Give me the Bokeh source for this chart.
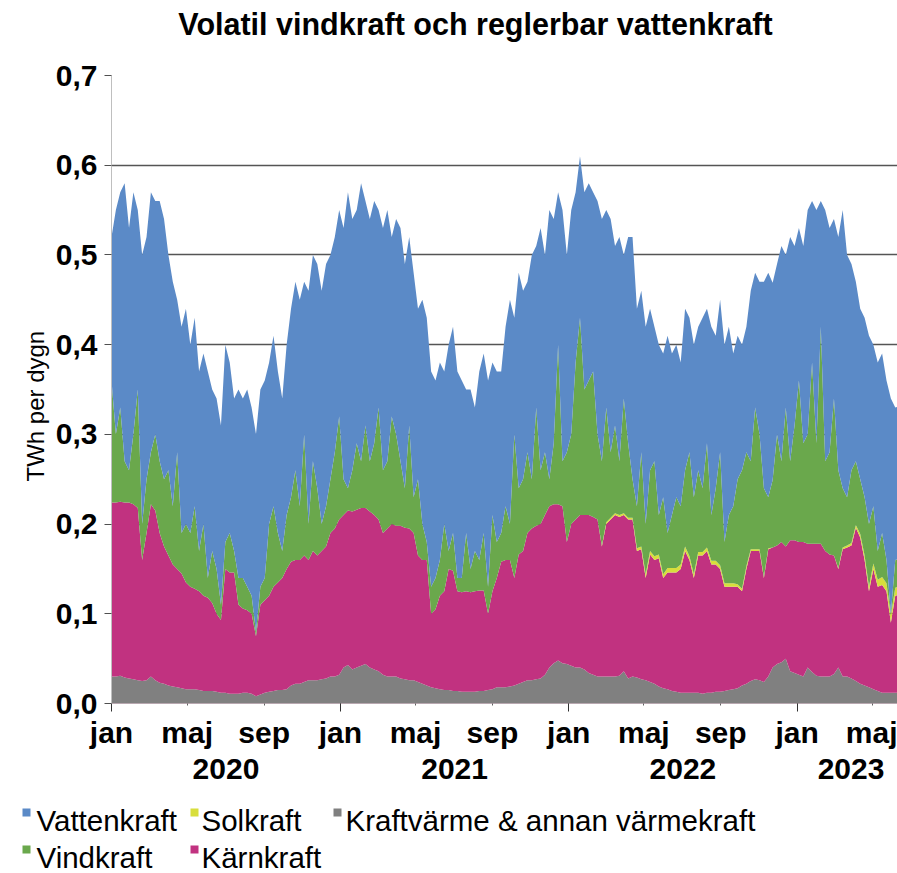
import numpy as np
import pandas as pd
from bokeh.plotting import figure
from bokeh.models import (Range1d, FixedTicker, ColumnDataSource, CustomJSTickFormatter,
                          LinearAxis)
from bokeh.core.properties import value
from bokeh.embed import file_html
from bokeh.resources import INLINE

# ---------------- data (TWh per dygn, weekly readings from 2020-01-01) ----------------
start_date = "2020-01-01"

kraftvarme = [
    .030, .030, .031, .029, .028, .027, .026, .025, .026, .030,
    .026, .023, .022, .020, .019, .018, .017, .016, .016, .016,
    .015, .014, .014, .014, .013, .012, .012, .011, .011, .011,
    .012, .012, .011, .008, .010, .012, .013, .014, .015, .015,
    .016, .020, .022, .022, .024, .026, .026, .026, .027, .028,
    .030, .030, .032, .040, .043, .038, .040, .042, .044, .040,
    .038, .036, .032, .030, .030, .030, .028, .027, .026, .026,
    .024, .022, .020, .018, .017, .016, .015, .015, .014, .014,
    .013, .013, .013, .013, .014, .014, .015, .016, .018, .018,
    .018, .019, .020, .022, .024, .026, .026, .027, .028, .032,
    .040, .045, .048, .045, .044, .042, .040, .040, .038, .034,
    .032, .030, .030, .030, .030, .030, .031, .036, .028, .030,
    .029, .027, .026, .024, .022, .019, .017, .016, .014, .013,
    .012, .012, .012, .012, .012, .011, .012, .012, .013, .013,
    .014, .015, .016, .017, .020, .022, .025, .027, .026, .024,
    .030, .040, .044, .046, .050, .036, .034, .032, .030, .040,
    .035, .031, .030, .030, .030, .033, .040, .030, .030, .028,
    .025, .022, .020, .018, .016, .014, .012, .012, .012, .012,
    .012,
]

karnkraft = [
    .194, .194, .194, .195, .196, .195, .192, .135, .164, .192,
    .189, .167, .153, .145, .136, .132, .128, .119, .114, .112,
    .110, .106, .104, .098, .087, .081, .138, .135, .135, .099,
    .094, .092, .089, .067, .100, .103, .107, .116, .120, .125,
    .134, .138, .138, .138, .141, .134, .144, .139, .143, .147,
    .160, .165, .173, .170, .172, .176, .176, .176, .174, .174,
    .172, .169, .158, .165, .170, .168, .170, .169, .169, .164,
    .141, .138, .140, .082, .088, .104, .110, .135, .134, .111,
    .111, .112, .111, .112, .112, .112, .085, .109, .122, .140,
    .142, .141, .120, .144, .146, .164, .169, .171, .172, .178,
    .180, .177, .174, .175, .136, .158, .165, .170, .172, .176,
    .176, .175, .145, .170, .175, .180, .177, .174, .177, .175,
    .141, .145, .114, .142, .138, .143, .123, .130, .132, .133,
    .138, .158, .148, .128, .153, .154, .158, .143, .142, .137,
    .116, .115, .114, .113, .105, .128, .145, .143, .144, .116,
    .142, .134, .132, .134, .125, .146, .148, .148, .150, .138,
    .143, .147, .148, .140, .136, .132, .110, .142, .144, .148,
    .171, .163, .140, .107, .134, .116, .120, .113, .078, .108,
    .110,
]

solkraft = [0.0] * 112 + [
    .001, .002, .002, .002, .002, .002, .002, .002,
    .003, .003, .004, .004, .004, .004, .004, .005, .005, .005,
    .005, .005, .004, .004, .004, .004, .004, .004, .004, .004,
    .004, .004, .004, .003, .003, .003, .002, .002, .002, .001,
    .001, .000, .000, .000, .000, .000, .000, .000, .000, .000,
    .000, .000, .000, .000, .000, .000, .001, .002, .002, .003,
    .003, .004, .005, .005, .006, .008, .009, .009, .008, .009,
    .009,
]

vindkraft = [
    .136, .076, .105, .046, .036, .078, .132, .040, .060, .058,
    .085, .080, .075, .095, .065, .130, .045, .065, .060, .092,
    .045, .080, .022, .058, .050, .017, .030, .044, .024, .030,
    .034, .026, .020, .005, .020, .025, .080, .090, .055, .030,
    .060, .072, .100, .060, .135, .040, .100, .075, .030, .045,
    .060, .085, .115, .040, .025, .046, .074, .052, .092, .056,
    .080, .125, .070, .075, .120, .102, .072, .044, .115, .040,
    .085, .040, .020, .030, .035, .040, .075, .020, .042, .015,
    .016, .065, .026, .045, .034, .064, .030, .085, .040, .032,
    .060, .040, .160, .074, .080, .090, .055, .132, .060, .070,
    .030, .068, .178, .050, .100, .100, .175, .220, .140, .150,
    .162, .095, .094, .128, .073, .098, .060, .128, .083, .043,
    .047, .105, .056, .090, .106, .044, .086, .039, .059, .079,
    .065, .085, .116, .086, .091, .071, .116, .051, .081, .126,
    .046, .076, .086, .117, .132, .127, .098, .158, .128, .099,
    .057, .075, .124, .090, .155, .088, .128, .180, .110, .122,
    .202, .112, .242, .100, .114, .175, .109, .066, .054, .081,
    .071, .061, .065, .070, .064, .032, .049, .026, .002, .031,
    .030,
]

vattenkraft = [
    .16, .25, .24, .31, .27, .27, .20, .30, .27, .29,
    .26, .29, .29, .24, .25, .17, .23, .24, .21, .21,
    .20, .19, .23, .18, .19, .20, .22, .19, .17, .21,
    .20, .22, .21, .22, .22, .22, .18, .19, .18, .17,
    .19, .21, .21, .23, .17, .26, .23, .25, .26, .27,
    .25, .24, .23, .28, .33, .28, .26, .31, .25, .27,
    .27, .22, .27, .28, .20, .24, .26, .25, .21, .25,
    .19, .25, .25, .24, .22, .22, .17, .23, .23, .23,
    .22, .16, .20, .16, .21, .20, .23, .17, .19, .18,
    .20, .25, .13, .24, .21, .19, .25, .18, .27, .22,
    .30, .25, .17, .28, .22, .25, .19, .18, .22, .22,
    .20, .26, .27, .22, .26, .20, .25, .16, .23, .27,
    .22, .18, .22, .18, .15, .19, .16, .22, .18, .17,
    .16, .18, .15, .17, .16, .19, .15, .21, .17, .17,
    .22, .21, .17, .16, .14, .14, .19, .15, .17, .23,
    .25, .22, .19, .24, .17, .25, .20, .17, .22, .25,
    .18, .26, .14, .28, .25, .20, .26, .31, .27, .23,
    .20, .19, .20, .21, .18, .21, .20, .20, .24, .17,
    .17,
]

series_names = ["Vattenkraft", "Solkraft", "Kraftvärme & annan värmekraft", "Vindkraft", "Kärnkraft"]
month_names = {1: "jan", 5: "maj", 9: "sep"}
year_labels = ["2020", "2021", "2022", "2023"]
y_ticks = [0.0, 0.1, 0.2, 0.3, 0.4, 0.5, 0.6, 0.7]
title_text = "Volatil vindkraft och reglerbar vattenkraft"
y_title = "TWh per dygn"

# ---------------- styling ----------------
C_HYD = "#5B8AC7"
C_SOL = "#D8DE3C"
C_CHP = "#808080"
C_WIND = "#6AA84C"
C_NUC = "#C13280"
colors = {"Vattenkraft": C_HYD, "Solkraft": C_SOL, "Kraftvärme & annan värmekraft": C_CHP,
          "Vindkraft": C_WIND, "Kärnkraft": C_NUC}
FONT = "Liberation Sans"

W, H = 897, 873
MAIN_H = 795
ROOT_GAP = 10          # vertical gap the page leaves between the two roots
FRAME_LEFT, FRAME_TOP, FRAME_BOTTOM = 111, 75, 703
PX_PER_DAY = 0.6255
X_END = (W - FRAME_LEFT) / PX_PER_DAY

n = len(vattenkraft)
t0 = pd.Timestamp(start_date)
dates = pd.date_range(t0, periods=n, freq="7D")
day = np.asarray((dates - t0).days, dtype=float)

source = ColumnDataSource(dict(day=day, chp=kraftvarme, nuc=karnkraft, sol=solkraft,
                               wind=vindkraft, hyd=vattenkraft))

p = figure(width=W, height=MAIN_H, output_backend="svg", toolbar_location=None, title=None,
           x_range=Range1d(0, X_END), y_range=Range1d(0, 0.7),
           min_border_left=FRAME_LEFT, min_border_right=0, min_border_top=FRAME_TOP,
           min_border_bottom=MAIN_H - FRAME_BOTTOM)
p.outline_line_color = None

p.varea_stack(["chp", "nuc", "sol", "wind", "hyd"], x="day",
              color=[C_CHP, C_NUC, C_SOL, C_WIND, C_HYD], source=source)

xa = p.below[0]
yax = p.left[0]


def plain_axis(ax, size, standoff):
    ax.major_label_text_font = FONT
    ax.major_label_text_font_style = "bold"
    ax.major_label_text_font_size = size
    ax.major_label_text_color = "black"
    ax.major_label_standoff = standoff
    ax.major_tick_out = 0
    ax.major_tick_in = 0
    ax.minor_tick_out = 0
    ax.minor_tick_in = 0
    ax.major_tick_line_color = None
    ax.minor_tick_line_color = None
    ax.axis_line_color = None


# x axis: month ticks
month_starts = pd.date_range("2020-01-01", "2023-06-01", freq="4MS")
tick_days = [float((m - t0).days) for m in month_starts]
jan_days = [float((m - t0).days) for m in month_starts if m.month == 1]
xa.ticker = FixedTicker(ticks=tick_days, minor_ticks=jan_days)
xa.major_label_overrides = {d: month_names[m.month] for d, m in zip(tick_days, month_starts)}
xa.major_label_text_font = FONT
xa.major_label_text_font_style = "bold"
xa.major_label_text_font_size = "30px"
xa.major_label_text_color = "black"
xa.major_label_standoff = 4
xa.major_tick_out = 2
xa.major_tick_in = 0
xa.minor_tick_out = 8
xa.minor_tick_in = 0
xa.major_tick_line_color = "#606060"
xa.minor_tick_line_color = "#303030"
xa.axis_line_color = "#B8A8B0"
p.xgrid.grid_line_color = None

# year axis below month axis
year_mid = []
for yl in year_labels:
    a = (pd.Timestamp(int(yl), 1, 1) - t0).days
    b = min((pd.Timestamp(int(yl) + 1, 1, 1) - t0).days, X_END + 12)
    year_mid.append(float((a + b) / 2))
ya2 = LinearAxis(ticker=FixedTicker(ticks=year_mid),
                 major_label_overrides={m: yl for m, yl in zip(year_mid, year_labels)})
plain_axis(ya2, "30px", 7)
p.add_layout(ya2, "below")

# title as a single-label axis above the frame (centred at page x ~475)
title_day = (475 - FRAME_LEFT) / PX_PER_DAY
ta = LinearAxis(ticker=FixedTicker(ticks=[title_day]),
                major_label_overrides={title_day: title_text})
plain_axis(ta, "30.5px", 35)
p.add_layout(ta, "above")

# y axis
yax.ticker = FixedTicker(ticks=y_ticks)
yax.formatter = CustomJSTickFormatter(code="return tick.toFixed(1).replace('.', ',');")
yax.major_label_text_font = FONT
yax.major_label_text_font_style = "bold"
yax.major_label_text_font_size = "30px"
yax.major_label_text_color = "black"
yax.major_label_standoff = 7
yax.major_tick_out = 7
yax.major_tick_in = 0
yax.minor_tick_line_color = None
yax.major_tick_line_color = "#505050"
yax.axis_line_color = "#BFBFBF"
yax.axis_label = y_title + "\u00a0" * 5
yax.axis_label_text_font = FONT
yax.axis_label_text_font_style = "normal"
yax.axis_label_text_font_size = "24px"
yax.axis_label_text_color = "black"
yax.axis_label_standoff = 4
p.ygrid.ticker = FixedTicker(ticks=y_ticks)
p.ygrid.grid_line_color = "#555555"
p.ygrid.grid_line_width = 1.3

# ---------------- legend strip: separate root, data units = page pixels ----------------
LEG_TOP = MAIN_H + ROOT_GAP
LEG_H = H - MAIN_H
leg = figure(width=W, height=LEG_H, output_backend="svg", toolbar_location=None, title=None,
             x_range=Range1d(0, W), y_range=Range1d(LEG_TOP + LEG_H, LEG_TOP),
             x_axis_location=None, y_axis_location=None, min_border=0)
leg.outline_line_color = None
leg.grid.visible = False

leg_layout = {  # name: (square centre x, text x, row baseline y)
    "Vattenkraft": (26, 36, 830),
    "Solkraft": (194, 201, 830),
    "Kraftvärme & annan värmekraft": (337, 345, 830),
    "Vindkraft": (26, 36, 867),
    "Kärnkraft": (194, 201, 867),
}
lsrc = ColumnDataSource(dict(
    name=series_names,
    sx=[leg_layout[s][0] for s in series_names],
    sy=[leg_layout[s][2] - 8 for s in series_names],
    tx=[leg_layout[s][1] for s in series_names],
    ty=[leg_layout[s][2] for s in series_names],
    col=[colors[s] for s in series_names],
))
leg.rect(x="sx", y="sy", width=8, height=8, fill_color="col", line_color=None, source=lsrc)
leg.text(x="tx", y="ty", text="name", source=lsrc, text_font=value(FONT),
         text_font_size=value("29.5px"), text_baseline="alphabetic", text_align="left",
         text_color="black")

open("out.html", "w").write(file_html([p, leg], INLINE))
